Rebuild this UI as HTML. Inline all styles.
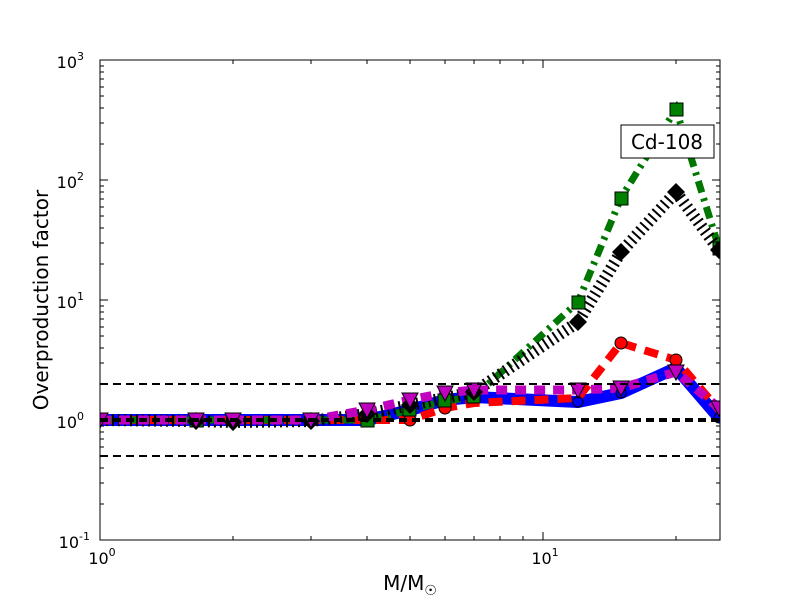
<!DOCTYPE html>
<html><head><meta charset="utf-8"><style>body{margin:0;background:#fff}svg{display:block}</style></head><body>
<svg width="800" height="600" xmlns="http://www.w3.org/2000/svg" font-family="DejaVu Sans, Liberation Sans, sans-serif">
<rect width="800" height="600" fill="#fff"/>
<defs><clipPath id="c"><rect x="100" y="60" width="620" height="480"/></clipPath></defs>
<g clip-path="url(#c)">
<polyline fill="none" stroke="#0000ff" stroke-width="12" stroke-linejoin="round" points="100,420 196,420 233,420 311,420 367,420 410,410 445,400 474,397 578,402 621,393 676,368 719,418"/>
<polyline fill="none" stroke="#ff0000" stroke-width="8" stroke-dasharray="14,9" points="100,420 196,420 233,420 311,420 367,420 410,420 445,408 474,403 578,398 621,343 676,360 719,410"/>
<polyline fill="none" stroke="#007700" stroke-width="7" stroke-dasharray="12,6,3,6" points="100,420 196,420 233,420 311,420 367,420 410,410 445,401 474,397 578,302 621,198 676,109 719,248"/>
<polyline fill="none" stroke="#000" stroke-width="12" stroke-dasharray="2,4" points="100,420 196,421 233,422 311,421 367,414 410,405 445,398 474,392 578,322 621,252 676,192 719,250"/>
<polyline fill="none" stroke="#bf00bf" stroke-width="9" stroke-dasharray="11,8" points="100,420 196,420 233,420 311,420 367,410 410,400 445,393 474,390 578,390 621,388 676,372 719,408"/>
<g fill="#0000ff" stroke="#000"><circle cx="578" cy="402" r="5"/><circle cx="621" cy="393" r="5"/><circle cx="719" cy="418" r="5"/></g>
<g fill="#ff0000" stroke="#000"><circle cx="410" cy="420" r="6"/><circle cx="445" cy="408" r="6"/><circle cx="621" cy="343" r="6"/><circle cx="676" cy="360" r="6"/></g>
<g fill="#008000" stroke="#000"><rect x="403" y="403" width="13" height="13"/><rect x="438" y="394" width="13" height="13"/><rect x="467" y="390" width="13" height="13"/><rect x="572" y="296" width="13" height="13"/><rect x="615" y="192" width="13" height="13"/><rect x="670" y="103" width="13" height="13"/><rect x="713" y="242" width="13" height="13"/><rect x="361" y="414" width="13" height="13"/><rect x="190" y="414" width="13" height="13"/></g>
<g fill="#000"><path d="M196,412 l9,9 -9,9 -9,-9z"/><path d="M233,413 l9,9 -9,9 -9,-9z"/><path d="M311,412 l9,9 -9,9 -9,-9z"/><path d="M367,405 l9,9 -9,9 -9,-9z"/><path d="M410,396 l9,9 -9,9 -9,-9z"/><path d="M474,383 l9,9 -9,9 -9,-9z"/><path d="M578,313 l9,9 -9,9 -9,-9z"/><path d="M621,243 l9,9 -9,9 -9,-9z"/><path d="M676,183 l9,9 -9,9 -9,-9z"/><path d="M719,241 l9,9 -9,9 -9,-9z"/></g>
<g fill="#bf00bf" stroke="#000"><path d="M92,413 h16 l-8,15z"/><path d="M188,413 h16 l-8,15z"/><path d="M225,413 h16 l-8,15z"/><path d="M303,413 h16 l-8,15z"/><path d="M359,403 h16 l-8,15z"/><path d="M402,393 h16 l-8,15z"/><path d="M437,386 h16 l-8,15z"/><path d="M466,383 h16 l-8,15z"/><path d="M570,383 h16 l-8,15z"/><path d="M613,381 h16 l-8,15z"/><path d="M668,365 h16 l-8,15z"/><path d="M711,401 h16 l-8,15z"/></g>
<g stroke="#000" stroke-dasharray="8,5" fill="none"><line x1="100" y1="384" x2="720" y2="384" stroke-width="2"/><line x1="100" y1="420" x2="720" y2="420" stroke-width="4"/><line x1="100" y1="456" x2="720" y2="456" stroke-width="2"/></g>
</g>
<rect x="100" y="60" width="620" height="480" fill="none" stroke="#000" stroke-width="1"/>
<g stroke="#000">
<path d="M100,60h8M100,180h8M100,300h8M100,420h8M100,540h8M720,60h-8M720,180h-8M720,300h-8M720,420h-8M720,540h-8"/>
<path d="M100,504h4M100,483h4M100,468h4M100,456h4M100,447h4M100,439h4M100,432h4M100,426h4M100,384h4M100,363h4M100,348h4M100,336h4M100,327h4M100,319h4M100,312h4M100,306h4M100,264h4M100,243h4M100,228h4M100,216h4M100,207h4M100,199h4M100,192h4M100,186h4M100,144h4M100,123h4M100,108h4M100,96h4M100,87h4M100,79h4M100,72h4M100,66h4"/>
<path d="M720,504h-4M720,483h-4M720,468h-4M720,456h-4M720,447h-4M720,439h-4M720,432h-4M720,426h-4M720,384h-4M720,363h-4M720,348h-4M720,336h-4M720,327h-4M720,319h-4M720,312h-4M720,306h-4M720,264h-4M720,243h-4M720,228h-4M720,216h-4M720,207h-4M720,199h-4M720,192h-4M720,186h-4M720,144h-4M720,123h-4M720,108h-4M720,96h-4M720,87h-4M720,79h-4M720,72h-4M720,66h-4"/>
<path d="M543,540v-8M543,60v8M233,540v-4M311,540v-4M367,540v-4M410,540v-4M445,540v-4M474,540v-4M500,540v-4M523,540v-4M676,540v-4M233,60v4M311,60v4M367,60v4M410,60v4M445,60v4M474,60v4M500,60v4M523,60v4M676,60v4"/>
</g>
<g font-size="16" fill="#000" text-anchor="end">
<text x="84" y="68">10<tspan font-size="11" dy="-8">3</tspan></text>
<text x="84" y="188">10<tspan font-size="11" dy="-8">2</tspan></text>
<text x="84" y="308">10<tspan font-size="11" dy="-8">1</tspan></text>
<text x="84" y="428">10<tspan font-size="11" dy="-8">0</tspan></text>
<text x="90" y="548">10<tspan font-size="11" dy="-8">-1</tspan></text>
</g>
<g font-size="16" fill="#000" text-anchor="middle">
<text x="102" y="564">10<tspan font-size="11" dy="-8">0</tspan></text>
<text x="545" y="564">10<tspan font-size="11" dy="-8">1</tspan></text>
</g>
<text x="410" y="590" font-size="20" text-anchor="middle">M/M<tspan font-size="14" dy="5">☉</tspan></text>
<text transform="translate(48,300) rotate(-90)" font-size="20" text-anchor="middle">Overproduction factor</text>
<rect x="621" y="125" width="93" height="33" fill="#fff" stroke="#000" stroke-width="1"/>
<text x="667" y="149" font-size="20" text-anchor="middle">Cd-108</text>
</svg>
</body></html>
